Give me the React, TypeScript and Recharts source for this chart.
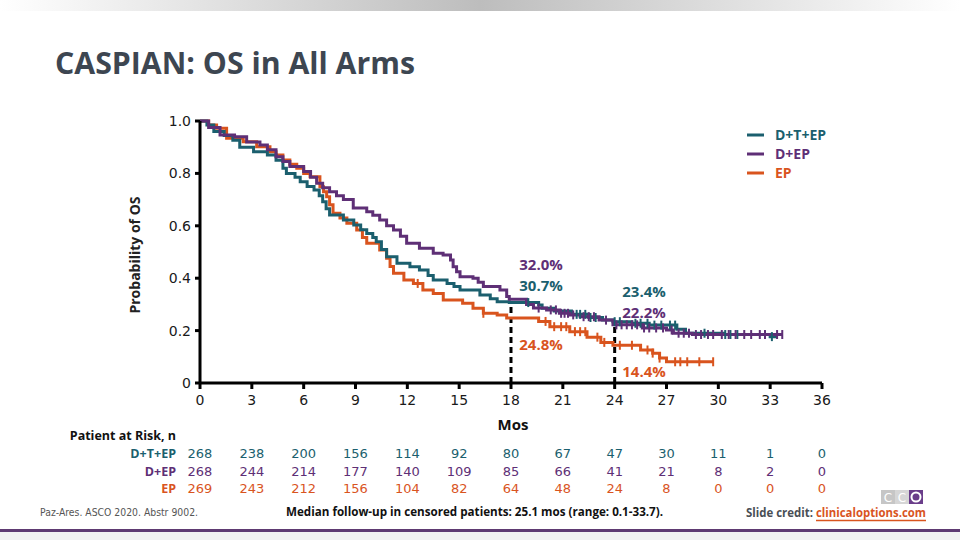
import React from 'react';
import { ComposedChart, Line, Scatter, XAxis, YAxis, ReferenceLine } from 'recharts';

// Kaplan-Meier step data: [month, survival probability]
const dtepSteps: [number, number][] = [
  [0, 1.0], [0.4, 0.985], [0.8, 0.96], [1.4, 0.945], [1.9, 0.927], [2.3, 0.9], [3.1, 0.883],
  [3.9, 0.87], [4.4, 0.85], [4.8, 0.82], [5.0, 0.8], [5.5, 0.785], [5.8, 0.768], [6.2, 0.75],
  [6.6, 0.737], [6.9, 0.715], [7.1, 0.692], [7.3, 0.665], [7.5, 0.641], [8.3, 0.622], [8.9, 0.603],
  [9.3, 0.585], [9.65, 0.571], [10.0, 0.555], [10.2, 0.539], [10.5, 0.51], [10.8, 0.482],
  [11.4, 0.457], [12.15, 0.444], [12.7, 0.431], [13.2, 0.41], [13.5, 0.393], [14.3, 0.38],
  [14.7, 0.368], [15.05, 0.355], [16.2, 0.336], [16.8, 0.322], [17.2, 0.31], [17.9, 0.307],
  [19.6, 0.298], [19.8, 0.285], [20.5, 0.275], [21.5, 0.262], [22.5, 0.25], [23.3, 0.24],
  [23.9, 0.234], [25.0, 0.228], [26.0, 0.221], [27.6, 0.205], [28.1, 0.19], [30.3, 0.185],
  [33.0, 0.177], [33.4, 0.177],
];

const depSteps: [number, number][] = [
  [0, 1.0], [0.5, 0.975], [1.16, 0.947], [2.0, 0.94], [2.7, 0.92], [3.47, 0.908], [3.9, 0.89],
  [4.4, 0.864], [4.8, 0.845], [5.2, 0.826], [6.0, 0.807], [6.4, 0.785], [6.75, 0.762],
  [7.1, 0.745], [7.5, 0.73], [7.9, 0.715], [8.3, 0.7], [8.87, 0.668], [9.65, 0.654], [10.0, 0.64],
  [10.4, 0.622], [10.8, 0.6], [11.2, 0.584], [11.6, 0.56], [11.96, 0.533], [12.7, 0.514],
  [13.5, 0.495], [14.07, 0.489], [14.5, 0.469], [14.65, 0.444], [14.85, 0.425], [15.05, 0.406],
  [15.8, 0.4], [16.1, 0.385], [16.4, 0.368], [17.36, 0.355], [17.75, 0.33], [17.9, 0.32],
  [18.9, 0.3], [19.3, 0.286], [20.06, 0.279], [20.8, 0.266], [21.4, 0.26], [22.0, 0.253],
  [23.1, 0.24], [23.9, 0.222], [25.6, 0.21], [27.0, 0.202], [27.4, 0.19], [28.5, 0.185],
  [33.7, 0.185],
];

const epSteps: [number, number][] = [
  [0, 1.0], [0.5, 0.985], [0.96, 0.972], [1.54, 0.934], [2.5, 0.921], [3.28, 0.902],
  [4.05, 0.883], [4.4, 0.87], [4.8, 0.851], [5.2, 0.835], [5.6, 0.82], [6.0, 0.8], [6.37, 0.787],
  [6.94, 0.749], [7.15, 0.73], [7.33, 0.711], [7.5, 0.68], [7.7, 0.648], [8.1, 0.63], [8.5, 0.61],
  [9.07, 0.584], [9.4, 0.555], [9.65, 0.533], [10.4, 0.508], [10.8, 0.476], [11.0, 0.445],
  [11.2, 0.419], [11.8, 0.393], [12.35, 0.38], [12.9, 0.355], [13.5, 0.342], [14.08, 0.317],
  [15.2, 0.304], [15.8, 0.285], [16.4, 0.266], [17.2, 0.26], [17.75, 0.248], [19.6, 0.235],
  [20.25, 0.215], [21.4, 0.196], [22.4, 0.175], [23.2, 0.155], [23.9, 0.144], [25.5, 0.126],
  [26.2, 0.114], [26.6, 0.095], [27.0, 0.081], [29.7, 0.081],
];

// Censoring times (months)
const dtepCensor = [19.0, 21.8, 22.0, 22.3, 22.6, 22.9, 24.0, 24.3, 25.2, 25.5, 25.9, 26.3, 26.7, 27.2, 27.5, 29.2, 30.4, 30.7, 31.1, 33.1];
const depCensor = [19.6, 20.3, 20.6, 20.9, 21.1, 21.3, 21.6, 22.2, 22.5, 22.8, 23.5, 24.1, 24.4, 24.7, 25.0, 25.3, 25.7, 26.0, 26.4, 26.8, 27.3, 27.7, 28.0, 28.3, 28.7, 29.0, 29.4, 29.7, 30.2, 30.6, 31.0, 31.5, 31.9, 32.4, 32.7, 33.4, 33.7];
const epCensor = [12.6, 16.4, 20.0, 20.5, 20.9, 21.2, 21.7, 22.0, 22.3, 23.0, 23.4, 24.3, 25.0, 25.9, 26.2, 26.6, 27.5, 27.8, 28.2, 28.9, 29.7];

const monthTicks = [0, 3, 6, 9, 12, 15, 18, 21, 24, 27, 30, 33, 36];
const probTicks = [0, 0.2, 0.4, 0.6, 0.8, 1.0];

const armNames = ['D+T+EP', 'D+EP', 'EP'];
const riskDTEP = [268, 238, 200, 156, 114, 92, 80, 67, 47, 30, 11, 1, 0];
const riskDEP = [268, 244, 214, 177, 140, 109, 85, 66, 41, 21, 8, 2, 0];
const riskEP = [269, 243, 212, 156, 104, 82, 64, 48, 24, 8, 0, 0, 0];

// Landmark survival estimates at 18 and 24 months
const landmark18 = { dtep: 0.307, dep: 0.32, ep: 0.248 };
const landmark24 = { dtep: 0.234, dep: 0.222, ep: 0.144 };

const TEAL = '#1b5f6e';
const PURPLE = '#5e2f76';
const ORANGE = '#d9541e';

// plot geometry
const PLOT_LEFT = 200;
const PLOT_RIGHT = 822;
const X_MAX = 36;
const monthX = (m: number) => PLOT_LEFT + (m / X_MAX) * (PLOT_RIGHT - PLOT_LEFT);

const toPoints = (steps: [number, number][]) => steps.map(([t, p]) => ({ t, p }));
const survivalAt = (steps: [number, number][], t: number) => {
  let p = steps[0][1];
  for (const [st, sp] of steps) if (st <= t) p = sp;
  return p;
};
const censorPoints = (steps: [number, number][], times: number[]) =>
  times.map((t) => ({ t, p: survivalAt(steps, t) }));

const tickMark = (color: string) => (props: any) => (
  <line x1={props.cx} x2={props.cx} y1={props.cy - 4.5} y2={props.cy + 4.5} stroke={color} strokeWidth={2} />
);

const XTick = (props: any) => (
  <text x={props.x} y={props.y + 14} textAnchor="middle" fontFamily="DejaVu Sans" fontSize={14} fill="#1a1a1a">
    {props.payload.value}
  </text>
);
const YTick = (props: any) => {
  const v = props.payload.value;
  return (
    <text x={props.x - 2} y={props.y + 5} textAnchor="end" fontFamily="DejaVu Sans" fontSize={14} fill="#1a1a1a">
      {v === 0 ? '0' : v.toFixed(1)}
    </text>
  );
};

const pct = (v: number) => `${(v * 100).toFixed(1)}%`;

export default function App() {
  const riskRows = [riskDTEP, riskDEP, riskEP];
  const rowColors = [TEAL, PURPLE, ORANGE];
  const rowY = [458, 476, 493];
  return (
    <div style={{ position: 'absolute', left: 0, top: 0, width: 960, height: 540, background: '#fff', overflow: 'hidden' }}>
      <ComposedChart
        width={960}
        height={540}
        margin={{ top: 121, right: 138, bottom: 127, left: 140 }}
      >
        <XAxis
          type="number"
          dataKey="t"
          domain={[0, X_MAX]}
          ticks={monthTicks}
          interval={0}
          height={30}
          axisLine={{ stroke: '#000', strokeWidth: 3 }}
          tickLine={{ stroke: '#000', strokeWidth: 3 }}
          tickSize={6}
          tick={<XTick />}
        />
        <YAxis
          type="number"
          dataKey="p"
          domain={[0, 1]}
          ticks={probTicks}
          interval={0}
          width={60}
          axisLine={{ stroke: '#000', strokeWidth: 3 }}
          tickLine={{ stroke: '#000', strokeWidth: 3 }}
          tickSize={5}
          tick={<YTick />}
        />
        <ReferenceLine
          segment={[{ x: 18, y: 0 }, { x: 18, y: 0.31 }]}
          stroke="#000"
          strokeWidth={3}
          strokeDasharray="6 4"
        />
        <ReferenceLine
          segment={[{ x: 24, y: 0 }, { x: 24, y: landmark24.dtep }]}
          stroke="#000"
          strokeWidth={3}
          strokeDasharray="6 4"
        />
        <Line data={toPoints(epSteps)} dataKey="p" type="stepAfter" stroke={ORANGE} strokeWidth={3} dot={false} isAnimationActive={false} />
        <Scatter data={censorPoints(epSteps, epCensor)} dataKey="p" shape={tickMark(ORANGE)} isAnimationActive={false} />
        <Line data={toPoints(dtepSteps)} dataKey="p" type="stepAfter" stroke={TEAL} strokeWidth={3} dot={false} isAnimationActive={false} />
        <Scatter data={censorPoints(dtepSteps, dtepCensor)} dataKey="p" shape={tickMark(TEAL)} isAnimationActive={false} />
        <Line data={toPoints(depSteps)} dataKey="p" type="stepAfter" stroke={PURPLE} strokeWidth={3} dot={false} isAnimationActive={false} />
        <Scatter data={censorPoints(depSteps, depCensor)} dataKey="p" shape={tickMark(PURPLE)} isAnimationActive={false} />
      </ComposedChart>

      <svg width={960} height={540} style={{ position: 'absolute', left: 0, top: 0, pointerEvents: 'none' }}>
        <defs>
          <linearGradient id="topband" x1="0" x2="1" y1="0" y2="0">
            <stop offset="0" stopColor="#ffffff" />
            <stop offset="0.5" stopColor="#bdbdbd" />
            <stop offset="1" stopColor="#ffffff" />
          </linearGradient>
        </defs>
        <rect x={0} y={0} width={960} height={11} fill="url(#topband)" />

        <text x={55} y={74} fontFamily="Open Sans" fontWeight={700} fontSize={30} fill="#3d4651" textLength={360} lengthAdjust="spacingAndGlyphs">
          CASPIAN: OS in All Arms
        </text>

        <text transform="translate(140,255) rotate(-90)" textAnchor="middle" fontFamily="Open Sans" fontWeight={700} fontSize={14} fill="#222">
          Probability of OS
        </text>

        {/* legend */}
        {armNames.map((name, i) => (
          <g key={name}>
            <line x1={747} x2={764} y1={135 + i * 19} y2={135 + i * 19} stroke={rowColors[i]} strokeWidth={3} />
            <text x={775} y={140 + i * 19} fontFamily="Open Sans" fontWeight={700} fontSize={14} fill={rowColors[i]}>
              {name}
            </text>
          </g>
        ))}

        {/* landmark labels */}
        <g fontFamily="Open Sans" fontWeight={700} fontSize={15} textAnchor="middle">
          <text x={541} y={270} fill={PURPLE}>{pct(landmark18.dep)}</text>
          <text x={541} y={291} fill={TEAL}>{pct(landmark18.dtep)}</text>
          <text x={541} y={350} fill={ORANGE}>{pct(landmark18.ep)}</text>
          <text x={644} y={297} fill={TEAL}>{pct(landmark24.dtep)}</text>
          <text x={644} y={318} fill={PURPLE}>{pct(landmark24.dep)}</text>
          <text x={644} y={377} fill={ORANGE}>{pct(landmark24.ep)}</text>
        </g>

        <text x={513} y={430} textAnchor="middle" fontFamily="Open Sans" fontWeight={700} fontSize={15} fill="#111">
          Mos
        </text>

        {/* patients at risk */}
        <text x={176} y={440} textAnchor="end" fontFamily="Open Sans" fontWeight={700} fontSize={12.5} fill="#111">
          Patient at Risk, n
        </text>
        {riskRows.map((row, r) => (
          <g key={r}>
            <text x={176} y={rowY[r]} textAnchor="end" fontFamily="Open Sans" fontWeight={700} fontSize={12.5} fill={rowColors[r]}>
              {armNames[r]}
            </text>
            {row.map((n, i) => (
              <text key={i} x={monthX(monthTicks[i])} y={rowY[r]} textAnchor="middle" fontFamily="DejaVu Sans" fontSize={13} fill={rowColors[r]}>
                {n}
              </text>
            ))}
          </g>
        ))}

        {/* footer */}
        <text x={40} y={516} fontFamily="DejaVu Sans" fontSize={10.5} fill="#555" textLength={158} lengthAdjust="spacingAndGlyphs">
          Paz-Ares. ASCO 2020. Abstr 9002.
        </text>
        <text x={286} y={516} fontFamily="Open Sans" fontWeight={700} fontSize={12} fill="#111" textLength={377} lengthAdjust="spacingAndGlyphs">
          Median follow-up in censored patients: 25.1 mos (range: 0.1-33.7).
        </text>
        <text x={746} y={517} fontFamily="Open Sans" fontWeight={700} fontSize={12} fill="#4a4f56" textLength={67} lengthAdjust="spacingAndGlyphs">
          Slide credit:
        </text>
        <text x={816} y={517} fontFamily="Open Sans" fontWeight={700} fontSize={12} fill={ORANGE} textLength={110} lengthAdjust="spacingAndGlyphs">
          clinicaloptions.com
        </text>
        <line x1={816} x2={926} y1={520.5} y2={520.5} stroke={ORANGE} strokeWidth={1.5} />

        {/* CCO mark */}
        <rect x={881} y={490} width={14} height={14} fill="#c6c6c6" />
        <rect x={895} y={490} width={14} height={14} fill="#d6d6d6" />
        <rect x={909} y={490} width={14} height={14} fill="#6a3d8a" />
        <text x={888} y={502} textAnchor="middle" fontFamily="DejaVu Sans" fontSize={12} fill="#fff">C</text>
        <text x={902} y={502} textAnchor="middle" fontFamily="DejaVu Sans" fontSize={12} fill="#fff">C</text>
        <circle cx={916} cy={497} r={4.5} fill="none" stroke="#fff" strokeWidth={2} />

        <rect x={0} y={529} width={960} height={3} fill="#5e3a72" />
        <rect x={0} y={532} width={960} height={8} fill="#f1f1f1" />
      </svg>
    </div>
  );
}
